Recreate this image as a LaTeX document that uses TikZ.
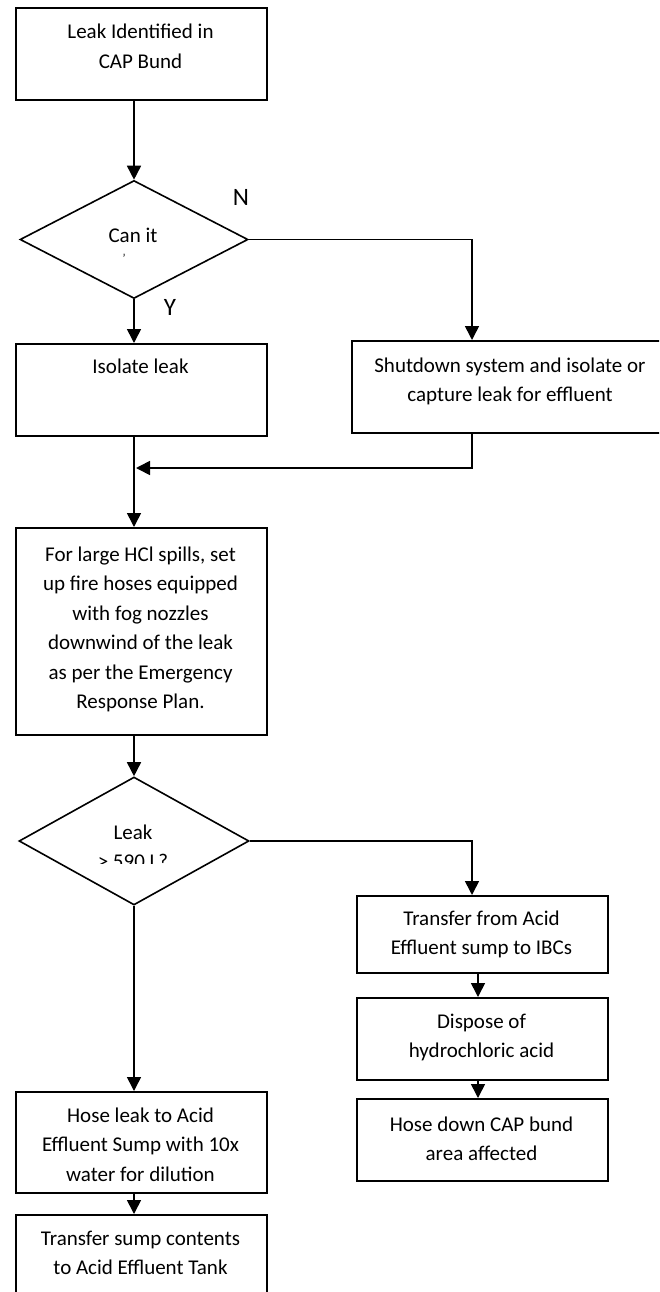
\documentclass[tikz,border=0pt]{standalone}
\usepackage{fontspec}
\setmainfont{Carlito}
\usetikzlibrary{arrows.meta,shapes.geometric}
\newcommand{\mlines}[1]{\begin{tabular}[t]{@{}c@{}}#1\end{tabular}}
\begin{document}
\begin{tikzpicture}[x=1pt,y=-1pt,
  lw/.style={line width=1.6pt},
  stepbox/.style={draw, lw, rectangle, inner sep=0pt, anchor=north west},
  decision/.style={draw, lw, diamond, inner sep=0pt},
  txt/.style={inner sep=0pt, anchor=base, font=\fontsize{21}{29.5}\selectfont},
  yn/.style={inner sep=0pt, anchor=base, font=\fontsize{25}{30}\selectfont},
  arr/.style={lw, -{Triangle[width=14pt,length=14pt]}}]
\useasboundingbox (0,0) rectangle (659,1292);
\clip (0,0) rectangle (659,1292);
\fill[white] (0,0) rectangle (659,1292);

% boxes
\node[stepbox, minimum width=251pt, minimum height=92pt] (b1) at (15,7) {};
\node[stepbox, minimum width=251pt, minimum height=92pt] (b2) at (15,343) {};
\node[stepbox, minimum width=318pt, minimum height=92pt] (b3) at (351,340) {};
\node[stepbox, minimum width=251pt, minimum height=207pt] (b4) at (15,527) {};
\node[stepbox, minimum width=251pt, minimum height=101pt] (b5) at (15,1091) {};
\node[stepbox, minimum width=251pt, minimum height=100pt] (b6) at (15,1214) {};
\node[stepbox, minimum width=251pt, minimum height=77pt] (b7) at (356,895) {};
\node[stepbox, minimum width=251pt, minimum height=82pt] (b8) at (356,997) {};
\node[stepbox, minimum width=251pt, minimum height=82pt] (b9) at (356,1098) {};

% decisions
\node[decision, minimum width=228pt, minimum height=118pt] (d1) at (134,239.5) {};
\node[decision, minimum width=230pt, minimum height=128pt] (d2) at (134,841) {};

% texts
\node[txt] (t1) at (140.5,39) {\mlines{Leak Identified in\\CAP Bund}};
\node[txt] (dt1) at (133,242) {Can it};
\node[txt, font=\fontsize{12}{12}\selectfont] (dt1b) at (124,262) {'};
\node[yn] (nlab) at (241,205) {N};
\node[yn] (ylab) at (170,315) {Y};
\node[txt] (t2) at (140.5,373) {Isolate leak};
\node[txt] (t3) at (510,372) {\mlines{Shutdown system and isolate or\\capture leak for effluent}};
\node[txt] (t4) at (140.5,561) {\mlines{For large HCl spills, set\\up fire hoses equipped\\with fog nozzles\\downwind of the leak\\as per the Emergency\\Response Plan.}};
\node[txt] (dt2) at (133,839) {Leak};
\begin{scope}
\clip (80,845) rectangle (190,863);
\node[txt] (dt2b) at (133,868.5) {> 590 L?};
\end{scope}
\node[txt] (t5) at (140.5,1122) {\mlines{Hose leak to Acid\\Effluent Sump with 10x\\water for dilution}};
\node[txt] (t6) at (140.5,1245) {\mlines{Transfer sump contents\\to Acid Effluent Tank}};
\node[txt] (t7) at (481.5,925) {\mlines{Transfer from Acid\\Effluent sump to IBCs}};
\node[txt] (t8) at (481.5,1028) {\mlines{Dispose of\\hydrochloric acid}};
\node[txt] (t9) at (481.5,1131) {\mlines{Hose down CAP bund\\area affected}};

% connectors
\coordinate (m1) at (136,468);
\draw[arr] (b1.south -| d1.north) -- (d1.north);
\draw[arr] (d1.south) -- (d1.south |- b2.north);
\draw[arr] (d1.east) -| ([xshift=121pt]b3.north west);
\draw[arr] (b2.south -| d1.south) -- (d1.south |- b4.north);
\draw[arr] ([xshift=121pt]b3.south west) |- (m1);
\draw[arr] (b4.south -| d2.north) -- (d2.north);
\draw[arr] (d2.south) -- (d2.south |- b5.north);
\draw[arr] (b5.south -| d2.south) -- (d2.south |- b6.north);
\draw[arr] (d2.east) -| ([xshift=116pt]b7.north west);
\draw[arr] ([xshift=122pt]b7.south west) -- ([xshift=122pt]b8.north west);
\draw[arr] ([xshift=122pt]b8.south west) -- ([xshift=122pt]b9.north west);
\end{tikzpicture}
\end{document}
